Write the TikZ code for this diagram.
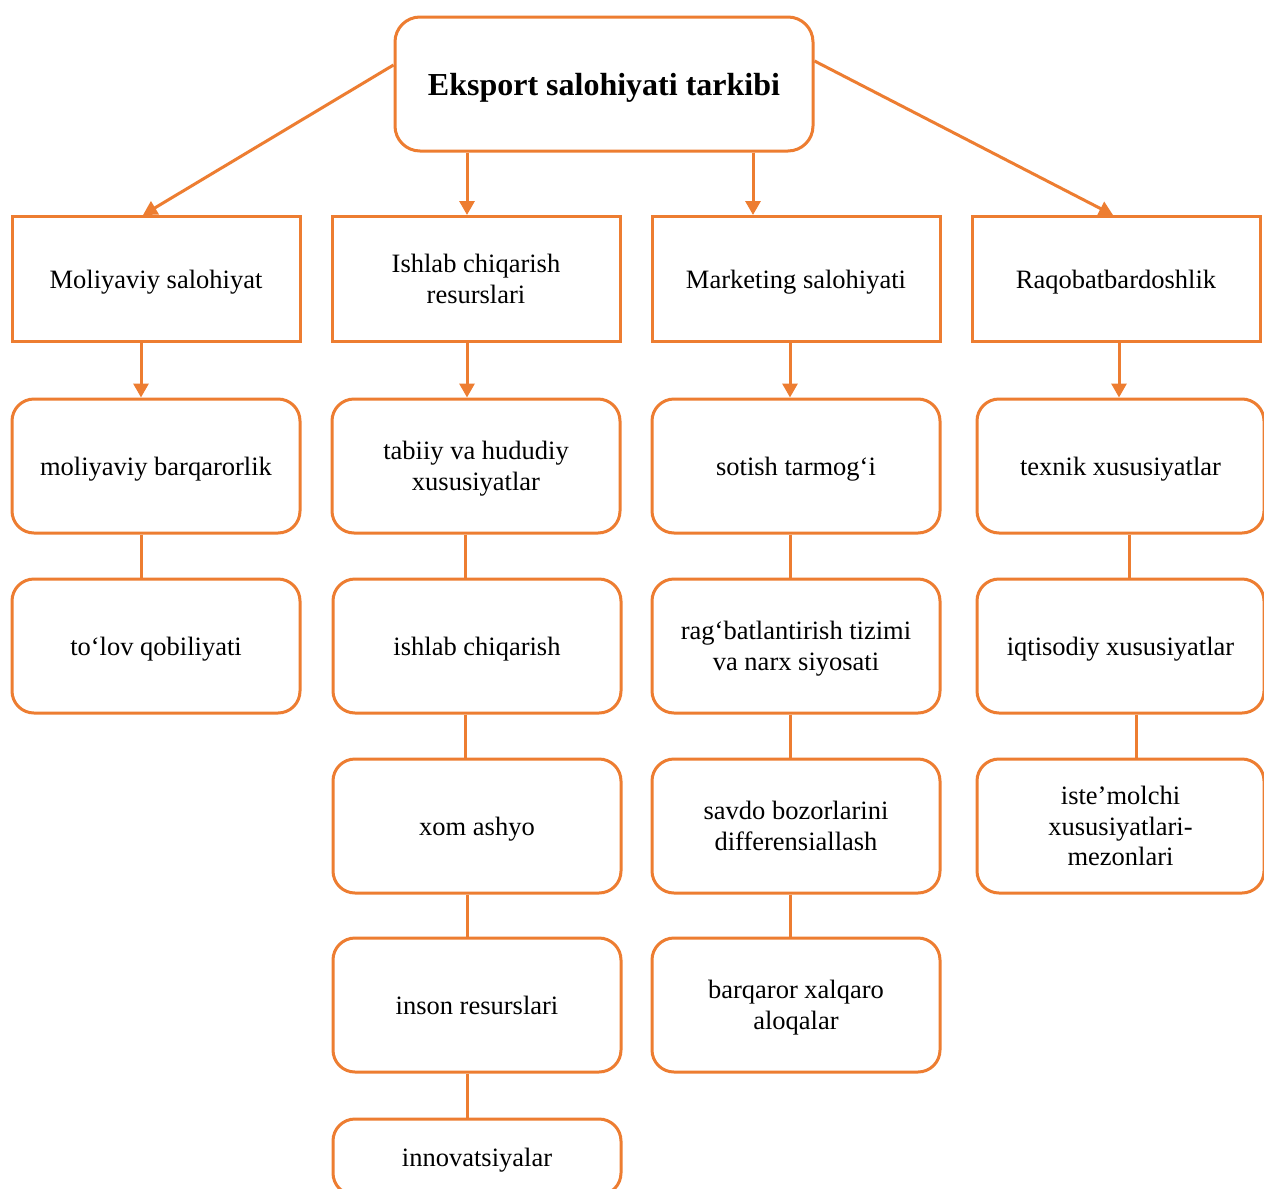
\documentclass[tikz,border=0pt]{standalone}
\usepackage{fontspec}
\setmainfont{Liberation Serif}
\usetikzlibrary{arrows.meta}
\definecolor{accent}{HTML}{ED7D31}
\begin{document}
\begin{tikzpicture}[>={Triangle[length=14pt,width=15pt]},x=1pt,y=-1pt,font=\fontsize{26.5}{30.5}\selectfont]
      \tikzset{hbox/.style={draw=accent, line width=3pt, minimum width=288pt, minimum height=125pt, inner sep=0pt, text depth=0pt, align=center},
        rbox/.style={hbox, rounded corners=22pt, minimum height=134pt},
        link/.style={draw=accent, line width=3pt}}
      \fill[white] (0,0) rectangle (1264,1189);
      \useasboundingbox (0,0) rectangle (1264,1189);
      \node[rbox, minimum width=418pt, rounded corners=25pt, font=\bfseries\fontsize{32}{38}\selectfont] (top) at (604,84) {Eksport salohiyati tarkibi};
      % first level
      \node[hbox] (mol) at (156,279) {Moliyaviy salohiyat};
      \node[hbox] (ish) at (476,279) {Ishlab chiqarish\\resurslari};
      \node[hbox] (mar) at (796,279) {Marketing salohiyati};
      \node[hbox] (raq) at (1116,279) {Raqobatbardoshlik};
      % column 1
      \node[rbox] (mol1) at (156,466) {moliyaviy barqarorlik};
      \node[rbox] (mol2) at (156,646) {to‘lov qobiliyati};
      % column 2
      \node[rbox] (ish1) at (476,466) {tabiiy va hududiy\\xususiyatlar};
      \node[rbox] (ish2) at (477,646) {ishlab chiqarish};
      \node[rbox] (ish3) at (477,826) {xom ashyo};
      \node[rbox] (ish4) at (477,1005) {inson resurslari};
      \node[rbox, minimum height=76pt] (ish5) at (477,1157) {innovatsiyalar};
      % column 3
      \node[rbox] (mar1) at (796,466) {sotish tarmog‘i};
      \node[rbox] (mar2) at (796,646) {rag‘batlantirish tizimi\\va narx siyosati};
      \node[rbox] (mar3) at (796,826) {savdo bozorlarini\\differensiallash};
      \node[rbox] (mar4) at (796,1005) {barqaror xalqaro\\aloqalar};
      % column 4
      \node[rbox, minimum width=287pt] (raq1) at (1120.5,466) {texnik xususiyatlar};
      \node[rbox, minimum width=287pt] (raq2) at (1120.5,646) {iqtisodiy xususiyatlar};
      \node[rbox, minimum width=287pt] (raq3) at (1120.5,826) {iste’molchi\\xususiyatlari-\\mezonlari};
      % connectors
      \draw[link,->] ([yshift=19pt]top.west) -- ([xshift=-13pt]mol.north);
      \draw[link,->] ([xshift=-137pt]top.south) -- ([xshift=-9pt]ish.north);
      \draw[link,->] ([xshift=149pt]top.south) -- ([xshift=-43pt]mar.north);
      \draw[link,->] ([yshift=23pt]top.east) -- ([xshift=-3pt]raq.north);
      \draw[link,->] ([xshift=-15pt]mol.south) -- ([xshift=-15pt]mol1.north);
      \draw[link,->] ([xshift=-9pt]ish.south) -- ([xshift=-9pt]ish1.north);
      \draw[link,->] ([xshift=-6pt]mar.south) -- ([xshift=-6pt]mar1.north);
      \draw[link,->] ([xshift=3pt]raq.south) -- ([xshift=-1.5pt]raq1.north);
      \draw[link] ([xshift=-15pt]mol1.south) -- ([xshift=-15pt]mol2.north);
      \draw[link] ([xshift=-11pt]ish1.south) -- ([xshift=-12pt]ish2.north);
      \draw[link] ([xshift=-12pt]ish2.south) -- ([xshift=-12pt]ish3.north);
      \draw[link] ([xshift=-10pt]ish3.south) -- ([xshift=-10pt]ish4.north);
      \draw[link] ([xshift=-10pt]ish4.south) -- ([xshift=-10pt]ish5.north);
      \draw[link] ([xshift=-6pt]mar1.south) -- ([xshift=-6pt]mar2.north);
      \draw[link] ([xshift=-6pt]mar2.south) -- ([xshift=-6pt]mar3.north);
      \draw[link] ([xshift=-6pt]mar3.south) -- ([xshift=-6pt]mar4.north);
      \draw[link] ([xshift=8.5pt]raq1.south) -- ([xshift=8.5pt]raq2.north);
      \draw[link] ([xshift=15.5pt]raq2.south) -- ([xshift=15.5pt]raq3.north);
    \end{tikzpicture}
\end{document}
